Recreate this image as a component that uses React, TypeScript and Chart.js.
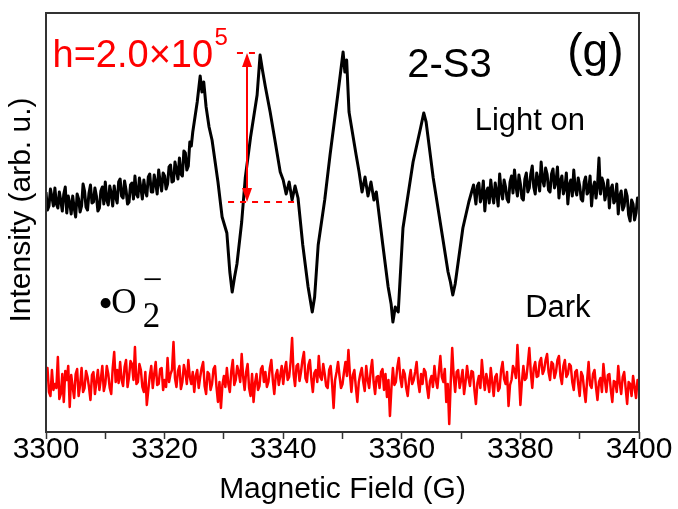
import React, { useEffect, useRef } from "react";
import { Chart, registerables } from "chart.js";

Chart.register(...registerables);

// Magnetic field (G) and intensity (arb. u., arbitrary plot units) for the "Light on" spectrum
const lightField = [
  3300, 3300.25, 3300.5, 3300.75, 3301, 3301.25, 3301.5, 3301.75, 3302, 3302.25, 3302.5, 3302.75, 3303, 3303.25, 3303.5, 3303.75, 3304, 3304.25, 3304.5, 3304.75,
  3305, 3305.25, 3305.5, 3305.75, 3306, 3306.25, 3306.5, 3306.75, 3307, 3307.25, 3307.5, 3307.75, 3308, 3308.25, 3308.5, 3308.75, 3309, 3309.25, 3309.5, 3309.75,
  3310, 3310.25, 3310.5, 3310.75, 3311, 3311.25, 3311.5, 3311.75, 3312, 3312.25, 3312.5, 3312.75, 3313, 3313.25, 3313.5, 3313.75, 3314, 3314.25, 3314.5, 3314.75,
  3315, 3315.25, 3315.5, 3315.75, 3316, 3316.25, 3316.5, 3316.75, 3317, 3317.25, 3317.5, 3317.75, 3318, 3318.25, 3318.5, 3318.75, 3319, 3319.25, 3319.5, 3319.75,
  3320, 3320.25, 3320.5, 3320.75, 3321, 3321.25, 3321.5, 3321.75, 3322, 3322.25, 3322.5, 3322.75, 3323, 3323.25, 3323.5, 3323.75, 3324, 3324.25, 3324.5, 3324.75,
  3325.0, 3325.5, 3326.0, 3326.3, 3326.6, 3327.0, 3327.5, 3328.0, 3329.0, 3329.7,
  3330.5, 3331.0, 3331.4, 3331.8, 3332.2, 3333.0, 3333.6, 3334.5, 3335.6, 3336.1,
  3336.5, 3337.0, 3337.8, 3338.6, 3339.5, 3340.0, 3340.5, 3341.0, 3341.5, 3342.0,
  3342.5, 3343.3, 3344.2, 3344.9, 3345.3, 3345.9, 3347.0, 3347.9, 3349.2, 3350.1,
  3350.4, 3350.7, 3351.1, 3352.3, 3352.8, 3353.3, 3353.8, 3354.3, 3354.8, 3355.3,
  3355.7, 3356.8, 3357.7, 3358.2, 3358.5, 3358.9, 3359.4, 3360.2, 3361.9, 3363.2,
  3363.7, 3364.1, 3365.3, 3366.9, 3367.8, 3368.2, 3368.6, 3369.0, 3370.3, 3371.3,
  3372.1,
  3372.5, 3372.75, 3373, 3373.25, 3373.5, 3373.75, 3374, 3374.25, 3374.5, 3374.75,
  3375, 3375.25, 3375.5, 3375.75, 3376, 3376.25, 3376.5, 3376.75, 3377, 3377.25, 3377.5, 3377.75, 3378, 3378.25, 3378.5, 3378.75, 3379, 3379.25, 3379.5, 3379.75,
  3380, 3380.25, 3380.5, 3380.75, 3381, 3381.25, 3381.5, 3381.75, 3382, 3382.25, 3382.5, 3382.75, 3383, 3383.25, 3383.5, 3383.75, 3384, 3384.25, 3384.5, 3384.75,
  3385, 3385.25, 3385.5, 3385.75, 3386, 3386.25, 3386.5, 3386.75, 3387, 3387.25, 3387.5, 3387.75, 3388, 3388.25, 3388.5, 3388.75, 3389, 3389.25, 3389.5, 3389.75,
  3390, 3390.25, 3390.5, 3390.75, 3391, 3391.25, 3391.5, 3391.75, 3392, 3392.25, 3392.5, 3392.75, 3393, 3393.25, 3393.5, 3393.75, 3394, 3394.25, 3394.5, 3394.75,
  3395, 3395.25, 3395.5, 3395.75, 3396, 3396.25, 3396.5, 3396.75, 3397, 3397.25, 3397.5, 3397.75, 3398, 3398.25, 3398.5, 3398.75, 3399, 3399.25, 3399.5, 3399.75,
  3400,
];
const lightIntensity = [
  240, 222, 226, 243, 235, 226, 244, 228, 224, 240, 231, 221, 238, 245, 219, 236, 229, 218, 236, 224,
  215, 238, 233, 220, 226, 248, 241, 225, 222, 239, 247, 229, 230, 244, 236, 221, 224, 241, 245, 228,
  250, 232, 227, 246, 239, 226, 246, 235, 229, 250, 253, 236, 234, 251, 242, 228, 230, 247, 249, 233,
  256, 238, 235, 254, 244, 233, 252, 241, 236, 255, 258, 240, 240, 257, 249, 238, 262, 250, 241, 259,
  256, 243, 248, 265, 267, 250, 251, 270, 262, 253, 274, 258, 256, 281, 279, 262, 266, 290, 286, 300,
  310, 330, 356, 340, 350, 325, 305, 292, 250, 215,
  199, 160, 140, 155, 168, 210, 254, 295, 337, 377,
  362, 345, 320, 292, 260, 252, 238, 250, 232, 246,
  234, 187, 145, 120, 135, 187, 232, 277, 337, 380,
  360, 372, 320, 277, 260, 240, 255, 236, 250, 232,
  240, 187, 145, 128, 110, 125, 120, 204, 270, 305,
  319, 310, 254, 194, 160, 150, 137, 148, 204, 230,
  247,
  228, 246, 249, 230, 236, 251, 221, 240, 244, 229,
  252, 238, 229, 249, 240, 226, 258, 241, 233, 252, 245, 233, 230, 250, 256, 239, 262, 246, 236, 257,
  248, 234, 232, 253, 259, 240, 244, 258, 266, 245, 238, 259, 252, 241, 270, 252, 246, 264, 258, 242,
  240, 258, 263, 244, 250, 265, 234, 251, 256, 238, 244, 259, 228, 247, 252, 236, 262, 243, 237, 254,
  246, 233, 231, 250, 255, 238, 241, 256, 226, 244, 250, 234, 246, 274, 238, 254, 249, 232, 240, 252,
  224, 243, 247, 229, 232, 248, 218, 236, 241, 222, 226, 242, 236, 217, 211, 232, 228, 212, 219, 234,
  224,
];

// "Dark" spectrum
const darkField = [
  3300, 3300.25, 3300.5, 3300.75, 3301, 3301.25, 3301.5, 3301.75, 3302, 3302.25, 3302.5, 3302.75, 3303, 3303.25, 3303.5, 3303.75, 3304, 3304.25, 3304.5, 3304.75,
  3305, 3305.25, 3305.5, 3305.75, 3306, 3306.25, 3306.5, 3306.75, 3307, 3307.25, 3307.5, 3307.75, 3308, 3308.25, 3308.5, 3308.75, 3309, 3309.25, 3309.5, 3309.75,
  3310, 3310.25, 3310.5, 3310.75, 3311, 3311.25, 3311.5, 3311.75, 3312, 3312.25, 3312.5, 3312.75, 3313, 3313.25, 3313.5, 3313.75, 3314, 3314.25, 3314.5, 3314.75,
  3315, 3315.25, 3315.5, 3315.75, 3316, 3316.25, 3316.5, 3316.75, 3317, 3317.25, 3317.5, 3317.75, 3318, 3318.25, 3318.5, 3318.75, 3319, 3319.25, 3319.5, 3319.75,
  3320, 3320.25, 3320.5, 3320.75, 3321, 3321.25, 3321.5, 3321.75, 3322, 3322.25, 3322.5, 3322.75, 3323, 3323.25, 3323.5, 3323.75, 3324, 3324.25, 3324.5, 3324.75,
  3325, 3325.25, 3325.5, 3325.75, 3326, 3326.25, 3326.5, 3326.75, 3327, 3327.25, 3327.5, 3327.75, 3328, 3328.25, 3328.5, 3328.75, 3329, 3329.25, 3329.5, 3329.75,
  3330, 3330.25, 3330.5, 3330.75, 3331, 3331.25, 3331.5, 3331.75, 3332, 3332.25, 3332.5, 3332.75, 3333, 3333.25, 3333.5, 3333.75, 3334, 3334.25, 3334.5, 3334.75,
  3335, 3335.25, 3335.5, 3335.75, 3336, 3336.25, 3336.5, 3336.75, 3337, 3337.25, 3337.5, 3337.75, 3338, 3338.25, 3338.5, 3338.75, 3339, 3339.25, 3339.5, 3339.75,
  3340, 3340.25, 3340.5, 3340.75, 3341, 3341.25, 3341.5, 3341.75, 3342, 3342.25, 3342.5, 3342.75, 3343, 3343.25, 3343.5, 3343.75, 3344, 3344.25, 3344.5, 3344.75,
  3345, 3345.25, 3345.5, 3345.75, 3346, 3346.25, 3346.5, 3346.75, 3347, 3347.25, 3347.5, 3347.75, 3348, 3348.25, 3348.5, 3348.75, 3349, 3349.25, 3349.5, 3349.75,
  3350, 3350.25, 3350.5, 3350.75, 3351, 3351.25, 3351.5, 3351.75, 3352, 3352.25, 3352.5, 3352.75, 3353, 3353.25, 3353.5, 3353.75, 3354, 3354.25, 3354.5, 3354.75,
  3355, 3355.25, 3355.5, 3355.75, 3356, 3356.25, 3356.5, 3356.75, 3357, 3357.25, 3357.5, 3357.75, 3358, 3358.25, 3358.5, 3358.75, 3359, 3359.25, 3359.5, 3359.75,
  3360, 3360.25, 3360.5, 3360.75, 3361, 3361.25, 3361.5, 3361.75, 3362, 3362.25, 3362.5, 3362.75, 3363, 3363.25, 3363.5, 3363.75, 3364, 3364.25, 3364.5, 3364.75,
  3365, 3365.25, 3365.5, 3365.75, 3366, 3366.25, 3366.5, 3366.75, 3367, 3367.25, 3367.5, 3367.75, 3368, 3368.25, 3368.5, 3368.75, 3369, 3369.25, 3369.5, 3369.75,
  3370, 3370.25, 3370.5, 3370.75, 3371, 3371.25, 3371.5, 3371.75, 3372, 3372.25, 3372.5, 3372.75, 3373, 3373.25, 3373.5, 3373.75, 3374, 3374.25, 3374.5, 3374.75,
  3375, 3375.25, 3375.5, 3375.75, 3376, 3376.25, 3376.5, 3376.75, 3377, 3377.25, 3377.5, 3377.75, 3378, 3378.25, 3378.5, 3378.75, 3379, 3379.25, 3379.5, 3379.75,
  3380, 3380.25, 3380.5, 3380.75, 3381, 3381.25, 3381.5, 3381.75, 3382, 3382.25, 3382.5, 3382.75, 3383, 3383.25, 3383.5, 3383.75, 3384, 3384.25, 3384.5, 3384.75,
  3385, 3385.25, 3385.5, 3385.75, 3386, 3386.25, 3386.5, 3386.75, 3387, 3387.25, 3387.5, 3387.75, 3388, 3388.25, 3388.5, 3388.75, 3389, 3389.25, 3389.5, 3389.75,
  3390, 3390.25, 3390.5, 3390.75, 3391, 3391.25, 3391.5, 3391.75, 3392, 3392.25, 3392.5, 3392.75, 3393, 3393.25, 3393.5, 3393.75, 3394, 3394.25, 3394.5, 3394.75,
  3395, 3395.25, 3395.5, 3395.75, 3396, 3396.25, 3396.5, 3396.75, 3397, 3397.25, 3397.5, 3397.75, 3398, 3398.25, 3398.5, 3398.75, 3399, 3399.25, 3399.5, 3399.75,
  3400,
];
const darkIntensity = [
  55, 64, 40, 36, 62, 42, 48, 44, 75, 33, 38, 58, 30, 61, 52, 66, 25, 57, 45, 34,
  58, 63, 36, 47, 64, 40, 44, 61, 55, 45, 32, 57, 60, 38, 50, 62, 42, 53, 66, 41,
  48, 66, 58, 44, 38, 64, 80, 50, 62, 49, 70, 52, 46, 65, 72, 45, 55, 71, 68, 52,
  85, 48, 50, 68, 62, 45, 40, 60, 27, 42, 56, 66, 44, 58, 70, 47, 48, 63, 64, 42,
  52, 45, 74, 50, 58, 62, 90, 54, 45, 61, 66, 43, 50, 67, 60, 48, 72, 55, 48, 60,
  40, 56, 62, 44, 55, 64, 70, 46, 38, 60, 58, 42, 48, 63, 66, 45, 30, 50, 24, 47,
  56, 45, 64, 48, 40, 61, 72, 47, 52, 66, 60, 50, 78, 55, 42, 60, 68, 44, 36, 58,
  30, 49, 58, 42, 46, 63, 66, 50, 60, 45, 50, 64, 72, 52, 38, 57, 62, 47, 56, 66,
  48, 62, 70, 52, 55, 70, 94, 58, 46, 66, 68, 51, 60, 72, 80, 54, 50, 67, 72, 53,
  40, 59, 62, 50, 76, 55, 52, 68, 58, 46, 44, 62, 66, 48, 24, 52, 60, 70, 56, 44,
  48, 60, 70, 56, 82, 58, 40, 57, 62, 45, 30, 50, 58, 64, 50, 41, 66, 52, 44, 61,
  72, 50, 38, 55, 56, 44, 60, 63, 42, 58, 35, 52, 16, 44, 64, 47, 50, 65, 74, 54,
  45, 62, 58, 44, 36, 53, 62, 48, 52, 60, 70, 50, 40, 58, 48, 63, 60, 45, 34, 51,
  56, 45, 66, 52, 44, 60, 76, 55, 50, 63, 30, 48, 8, 50, 84, 56, 40, 60, 62, 44,
  52, 62, 38, 50, 66, 54, 46, 61, 60, 42, 28, 49, 56, 44, 72, 55, 42, 58, 50, 40,
  64, 50, 36, 55, 58, 41, 44, 62, 70, 53, 48, 60, 26, 47, 52, 66, 62, 54, 87, 58,
  27, 50, 66, 52, 54, 68, 84, 60, 44, 64, 70, 55, 56, 70, 74, 58, 62, 72, 78, 60,
  52, 70, 68, 54, 60, 72, 76, 56, 48, 66, 72, 55, 58, 68, 66, 50, 42, 60, 62, 48,
  36, 60, 56, 42, 30, 52, 70, 47, 44, 58, 62, 45, 32, 50, 54, 40, 68, 52, 40, 57,
  58, 42, 30, 51, 50, 40, 66, 49, 38, 55, 60, 44, 28, 50, 48, 36, 56, 45, 34, 52,
  50,
];

// Peak-height marker (data units)
const heightMarker = { field: 3333.9, bottom: 230, top: 379, bottomFrom: 3330.7, bottomTo: 3342.8, topFrom: 3332.2, topTo: 3336.1 };

const SANS = "'Liberation Sans', Arial, sans-serif";
const SERIF = "'Liberation Serif', 'Times New Roman', serif";
const RED = "#ff0000";

const labels = [
  { text: "h=2.0×10", x: 3301.1, y: 365, size: 38, color: RED, family: SANS },
  { text: "5", x: 3328.4, y: 387, size: 24, color: RED, family: SANS },
  { text: "2-S3", x: 3360.9, y: 355, size: 40, color: "#000", family: SANS },
  { text: "(g)", x: 3387.9, y: 366, size: 46, color: "#000", family: SANS },
  { text: "Light on", x: 3372.3, y: 302, size: 31, color: "#000", family: SANS },
  { text: "Dark", x: 3380.8, y: 115, size: 31, color: "#000", family: SANS },
  { text: "•", x: 3308.8, y: 115, size: 42, color: "#000", family: SERIF },
  { text: "O", x: 3311.0, y: 119, size: 35, color: "#000", family: SERIF },
  { text: "2", x: 3316.3, y: 105, size: 35, color: "#000", family: SERIF },
  { text: "−", x: 3316.3, y: 141, size: 35, color: "#000", family: SERIF },
];

const framePlugin = {
  id: "frame",
  afterDraw(chart: any) {
    const { ctx, chartArea: a } = chart;
    ctx.save();
    ctx.strokeStyle = "#333";
    ctx.lineWidth = 2;
    ctx.strokeRect(a.left, a.top, a.right - a.left, a.bottom - a.top);
    ctx.restore();
  },
};

const annotationPlugin = {
  id: "annotations",
  afterDatasetsDraw(chart: any) {
    const { ctx } = chart;
    const xs = chart.scales.x;
    const ys = chart.scales.y;
    const m = heightMarker;
    ctx.save();
    ctx.strokeStyle = RED;
    ctx.fillStyle = RED;
    ctx.lineWidth = 2;
    ctx.setLineDash([6, 6]);
    ctx.beginPath();
    ctx.moveTo(xs.getPixelForValue(m.bottomFrom), ys.getPixelForValue(m.bottom));
    ctx.lineTo(xs.getPixelForValue(m.bottomTo), ys.getPixelForValue(m.bottom));
    ctx.moveTo(xs.getPixelForValue(m.topFrom), ys.getPixelForValue(m.top));
    ctx.lineTo(xs.getPixelForValue(m.topTo), ys.getPixelForValue(m.top));
    ctx.stroke();
    ctx.setLineDash([]);
    const ax = xs.getPixelForValue(m.field);
    const yt = ys.getPixelForValue(m.top);
    const yb = ys.getPixelForValue(m.bottom);
    const head = 14;
    const hw = 5;
    ctx.beginPath();
    ctx.moveTo(ax, yt + head - 2);
    ctx.lineTo(ax, yb - head + 2);
    ctx.stroke();
    ctx.beginPath();
    ctx.moveTo(ax, yt);
    ctx.lineTo(ax - hw, yt + head);
    ctx.lineTo(ax + hw, yt + head);
    ctx.closePath();
    ctx.fill();
    ctx.beginPath();
    ctx.moveTo(ax, yb);
    ctx.lineTo(ax - hw, yb - head);
    ctx.lineTo(ax + hw, yb - head);
    ctx.closePath();
    ctx.fill();

    ctx.textAlign = "left";
    ctx.textBaseline = "alphabetic";
    for (const l of labels) {
      ctx.fillStyle = l.color;
      ctx.font = `${l.size}px ${l.family}`;
      ctx.fillText(l.text, xs.getPixelForValue(l.x), ys.getPixelForValue(l.y));
    }
    ctx.restore();
  },
};

export default function App() {
  const ref = useRef<HTMLCanvasElement>(null);
  useEffect(() => {
    if (!ref.current) return;
    const chart = new Chart(ref.current, {
      type: "line",
      data: {
        datasets: [
          {
            label: "Light on",
            data: lightField.map((f, i) => ({ x: f, y: lightIntensity[i] })),
            borderColor: "#000",
            borderWidth: 3,
            borderJoinStyle: "round",
            pointRadius: 0,
            tension: 0,
            fill: false,
          },
          {
            label: "Dark",
            data: darkField.map((f, i) => ({ x: f, y: darkIntensity[i] })),
            borderColor: RED,
            borderWidth: 2.5,
            borderJoinStyle: "round",
            pointRadius: 0,
            tension: 0,
            fill: false,
          },
        ],
      },
      options: {
        responsive: false,
        animation: false,
        events: [],
        layout: { padding: { top: 13, right: 39, left: 0, bottom: 0 } },
        plugins: { legend: { display: false }, tooltip: { enabled: false } },
        scales: {
          x: {
            type: "linear",
            min: 3300,
            max: 3400,
            afterFit: (s: any) => {
              s.height = 77;
            },
            ticks: {
              stepSize: 10,
              autoSkip: false,
              maxRotation: 0,
              color: "#000",
              padding: -7,
              font: { family: SANS, size: 30 },
              callback: (v: any) => (Number(v) % 20 === 0 ? String(v) : ""),
            },
            grid: { drawOnChartArea: false, drawTicks: true, tickLength: 7, tickColor: "#333", tickWidth: 1.5 },
            border: { display: false },
            title: {
              display: true,
              text: "Magnetic Field (G)",
              color: "#000",
              font: { family: SANS, size: 30 },
              padding: { top: 0, bottom: 1 },
            },
          },
          y: {
            min: 0,
            max: 419,
            afterFit: (s: any) => {
              s.width = 46;
            },
            ticks: { display: false },
            grid: { display: false },
            border: { display: false },
            title: {
              display: true,
              text: "   Intensity (arb. u.)",
              color: "#000",
              font: { family: SANS, size: 30 },
              padding: { top: 4, bottom: 0 },
            },
          },
        },
      },
      plugins: [framePlugin, annotationPlugin],
    } as any);
    return () => chart.destroy();
  }, []);
  return (
    <div style={{ position: "absolute", left: 0, top: 0, width: 678, height: 509, background: "#fff" }}>
      <canvas ref={ref} width={678} height={509} style={{ display: "block" }} />
    </div>
  );
}
